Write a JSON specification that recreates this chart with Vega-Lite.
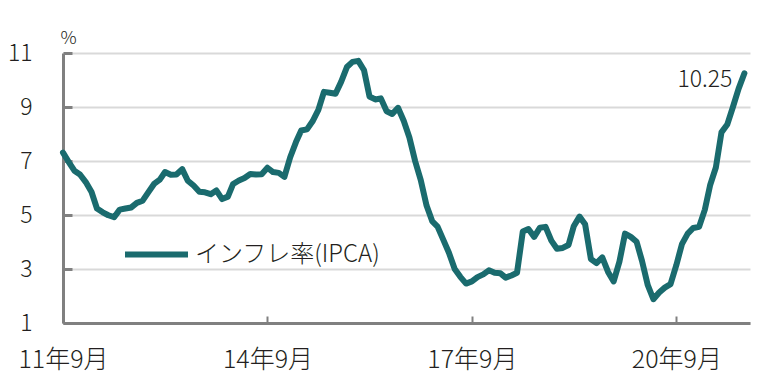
{
  "$schema": "https://vega.github.io/schema/vega-lite/v6.json",
  "width": 687,
  "height": 270,
  "autosize": "none",
  "padding": {"left": 63, "top": 53, "right": 7, "bottom": 52},
  "background": "white",
  "config": {
    "view": {"stroke": null},
    "font": "Noto Sans CJK JP",
    "axis": {"labelFont": "Noto Sans CJK JP", "labelColor": "#231f20", "labelFontWeight": 300, "titleFont": "Noto Sans CJK JP"}
  },
  "data": {
    "values": [
      {"date": "2011-09-01", "ipca": 7.31}, {"date": "2011-10-01", "ipca": 6.97}, {"date": "2011-11-01", "ipca": 6.64}, {"date": "2011-12-01", "ipca": 6.50},
      {"date": "2012-01-01", "ipca": 6.22}, {"date": "2012-02-01", "ipca": 5.85}, {"date": "2012-03-01", "ipca": 5.24}, {"date": "2012-04-01", "ipca": 5.10},
      {"date": "2012-05-01", "ipca": 4.99}, {"date": "2012-06-01", "ipca": 4.92}, {"date": "2012-07-01", "ipca": 5.20}, {"date": "2012-08-01", "ipca": 5.24},
      {"date": "2012-09-01", "ipca": 5.28}, {"date": "2012-10-01", "ipca": 5.45}, {"date": "2012-11-01", "ipca": 5.53}, {"date": "2012-12-01", "ipca": 5.84},
      {"date": "2013-01-01", "ipca": 6.15}, {"date": "2013-02-01", "ipca": 6.31}, {"date": "2013-03-01", "ipca": 6.59}, {"date": "2013-04-01", "ipca": 6.49},
      {"date": "2013-05-01", "ipca": 6.50}, {"date": "2013-06-01", "ipca": 6.70}, {"date": "2013-07-01", "ipca": 6.27}, {"date": "2013-08-01", "ipca": 6.09},
      {"date": "2013-09-01", "ipca": 5.86}, {"date": "2013-10-01", "ipca": 5.84}, {"date": "2013-11-01", "ipca": 5.77}, {"date": "2013-12-01", "ipca": 5.91},
      {"date": "2014-01-01", "ipca": 5.59}, {"date": "2014-02-01", "ipca": 5.68}, {"date": "2014-03-01", "ipca": 6.15}, {"date": "2014-04-01", "ipca": 6.28},
      {"date": "2014-05-01", "ipca": 6.37}, {"date": "2014-06-01", "ipca": 6.52}, {"date": "2014-07-01", "ipca": 6.50}, {"date": "2014-08-01", "ipca": 6.51},
      {"date": "2014-09-01", "ipca": 6.75}, {"date": "2014-10-01", "ipca": 6.59}, {"date": "2014-11-01", "ipca": 6.56}, {"date": "2014-12-01", "ipca": 6.41},
      {"date": "2015-01-01", "ipca": 7.14}, {"date": "2015-02-01", "ipca": 7.70}, {"date": "2015-03-01", "ipca": 8.13}, {"date": "2015-04-01", "ipca": 8.17},
      {"date": "2015-05-01", "ipca": 8.47}, {"date": "2015-06-01", "ipca": 8.89}, {"date": "2015-07-01", "ipca": 9.56}, {"date": "2015-08-01", "ipca": 9.53},
      {"date": "2015-09-01", "ipca": 9.49}, {"date": "2015-10-01", "ipca": 9.93}, {"date": "2015-11-01", "ipca": 10.48}, {"date": "2015-12-01", "ipca": 10.67},
      {"date": "2016-01-01", "ipca": 10.71}, {"date": "2016-02-01", "ipca": 10.36}, {"date": "2016-03-01", "ipca": 9.39}, {"date": "2016-04-01", "ipca": 9.28},
      {"date": "2016-05-01", "ipca": 9.32}, {"date": "2016-06-01", "ipca": 8.84}, {"date": "2016-07-01", "ipca": 8.74}, {"date": "2016-08-01", "ipca": 8.97},
      {"date": "2016-09-01", "ipca": 8.48}, {"date": "2016-10-01", "ipca": 7.87}, {"date": "2016-11-01", "ipca": 6.99}, {"date": "2016-12-01", "ipca": 6.29},
      {"date": "2017-01-01", "ipca": 5.35}, {"date": "2017-02-01", "ipca": 4.76}, {"date": "2017-03-01", "ipca": 4.57}, {"date": "2017-04-01", "ipca": 4.08},
      {"date": "2017-05-01", "ipca": 3.60}, {"date": "2017-06-01", "ipca": 3.00}, {"date": "2017-07-01", "ipca": 2.71}, {"date": "2017-08-01", "ipca": 2.46},
      {"date": "2017-09-01", "ipca": 2.54}, {"date": "2017-10-01", "ipca": 2.70}, {"date": "2017-11-01", "ipca": 2.80}, {"date": "2017-12-01", "ipca": 2.95},
      {"date": "2018-01-01", "ipca": 2.86}, {"date": "2018-02-01", "ipca": 2.84}, {"date": "2018-03-01", "ipca": 2.68}, {"date": "2018-04-01", "ipca": 2.76},
      {"date": "2018-05-01", "ipca": 2.86}, {"date": "2018-06-01", "ipca": 4.39}, {"date": "2018-07-01", "ipca": 4.48}, {"date": "2018-08-01", "ipca": 4.19},
      {"date": "2018-09-01", "ipca": 4.53}, {"date": "2018-10-01", "ipca": 4.56}, {"date": "2018-11-01", "ipca": 4.05}, {"date": "2018-12-01", "ipca": 3.75},
      {"date": "2019-01-01", "ipca": 3.78}, {"date": "2019-02-01", "ipca": 3.89}, {"date": "2019-03-01", "ipca": 4.58}, {"date": "2019-04-01", "ipca": 4.94},
      {"date": "2019-05-01", "ipca": 4.66}, {"date": "2019-06-01", "ipca": 3.37}, {"date": "2019-07-01", "ipca": 3.22}, {"date": "2019-08-01", "ipca": 3.43},
      {"date": "2019-09-01", "ipca": 2.89}, {"date": "2019-10-01", "ipca": 2.54}, {"date": "2019-11-01", "ipca": 3.27}, {"date": "2019-12-01", "ipca": 4.31},
      {"date": "2020-01-01", "ipca": 4.19}, {"date": "2020-02-01", "ipca": 4.01}, {"date": "2020-03-01", "ipca": 3.30}, {"date": "2020-04-01", "ipca": 2.40},
      {"date": "2020-05-01", "ipca": 1.88}, {"date": "2020-06-01", "ipca": 2.13}, {"date": "2020-07-01", "ipca": 2.31}, {"date": "2020-08-01", "ipca": 2.44},
      {"date": "2020-09-01", "ipca": 3.14}, {"date": "2020-10-01", "ipca": 3.92}, {"date": "2020-11-01", "ipca": 4.31}, {"date": "2020-12-01", "ipca": 4.52},
      {"date": "2021-01-01", "ipca": 4.56}, {"date": "2021-02-01", "ipca": 5.20}, {"date": "2021-03-01", "ipca": 6.10}, {"date": "2021-04-01", "ipca": 6.76},
      {"date": "2021-05-01", "ipca": 8.06}, {"date": "2021-06-01", "ipca": 8.35}, {"date": "2021-07-01", "ipca": 8.99}, {"date": "2021-08-01", "ipca": 9.68},
      {"date": "2021-09-01", "ipca": 10.25, "label": "10.25"}
    ]
  },
  "encoding": {
    "x": {
      "field": "date", "type": "temporal",
      "scale": {"type": "utc", "domain": [{"year": 2011, "month": 9, "date": 1, "utc": true}, {"year": 2021, "month": 10, "date": 1, "utc": true}]},
      "axis": {
        "title": null,
        "values": [
          {"year": 2011, "month": 9, "date": 1, "utc": true},
          {"year": 2014, "month": 9, "date": 1, "utc": true},
          {"year": 2017, "month": 9, "date": 1, "utc": true},
          {"year": 2020, "month": 9, "date": 1, "utc": true}
        ],
        "labelExpr": "utcFormat(datum.value, '%y') + '年' + (utcmonth(datum.value) + 1) + '月'",
        "labelFontSize": 25,
        "grid": false,
        "domainColor": "#808080", "domainWidth": 3,
        "tickColor": "#808080", "tickWidth": 2, "tickSize": -7,
        "labelPadding": 31, "labelBaseline": "top", "labelFlush": false
      }
    },
    "y": {
      "field": "ipca", "type": "quantitative",
      "scale": {"domain": [1, 11], "nice": false, "zero": false},
      "axis": {
        "title": "%", "titleAngle": 0, "titleAlign": "left", "titleBaseline": "bottom",
        "titleX": -3, "titleY": -6, "titleFontSize": 18, "titleFontWeight": 300, "titleColor": "#231f20",
        "values": [1, 3, 5, 7, 9, 11],
        "labelFontSize": 23,
        "grid": true, "gridColor": "#d9d9d9", "gridWidth": 2,
        "domainColor": "#808080", "domainWidth": 3,
        "tickColor": "#808080", "tickWidth": 3, "tickSize": -9,
        "labelPadding": 40
      }
    }
  },
  "layer": [
    {
      "mark": {"type": "line", "strokeWidth": 6, "strokeJoin": "round", "strokeCap": "round"},
      "encoding": {
        "color": {
          "datum": "インフレ率(IPCA)",
          "type": "nominal",
          "scale": {"range": ["#1a6b6e"]},
          "legend": {
            "title": null, "orient": "none", "legendX": 59, "legendY": 167,
            "symbolType": "stroke", "symbolSize": 3969, "symbolStrokeWidth": 6,
            "labelFont": "Noto Sans CJK JP", "labelFontSize": 24, "labelFontWeight": 300, "labelColor": "#231f20", "labelOffset": 4,
            "labelLimit": 400,
            "symbolStrokeColor": "#1a6b6e"
          }
        }
      }
    },
    {
      "transform": [{"filter": "datum.label != null"}],
      "mark": {"type": "text", "align": "right", "baseline": "middle", "dx": -12, "dy": 7, "fontSize": 23, "fontWeight": 300, "color": "#231f20", "font": "Noto Sans CJK JP"},
      "encoding": {"text": {"field": "label"}}
    }
  ]
}
